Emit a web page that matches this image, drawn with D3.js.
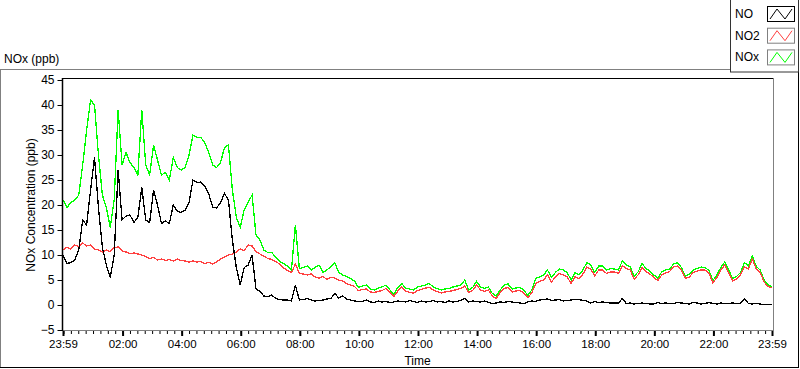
<!DOCTYPE html>
<html>
<head>
<meta charset="utf-8">
<script src="https://cdn.jsdelivr.net/npm/d3@7"></script>
<style>
  body { margin: 0; background: #fff; }
  svg { display: block; font-family: "Liberation Sans", Arial, sans-serif; }
</style>
</head>
<body>
<div id="main"></div>
<script>
// NOx time series, one reading every 8 minutes from 23:59 to 23:59 next day
var stepMinutes = 8;

var seriesNames = ["NO", "NO2", "NOx"];

var noValues = [
  10, 8.3, 8.5, 9, 11, 17, 16, 23, 29.5, 19.5,
  11.5, 8, 5.5, 10, 27, 17, 17.8, 18, 16.5, 17.5,
  23.5, 17, 16.5, 23, 20, 16.3, 16.8, 16.3, 20, 18.8,
  18.5, 19, 20.5, 25, 24.5, 24.6, 23.8, 22.2, 19.6, 19.4,
  20.5, 22.3, 21, 13, 7.5, 4, 7.5, 8, 10, 3.2,
  2.7, 1.8, 1.7, 2, 1.3, 1.1, 1, 1, 0.8, 4,
  1, 1.1, 1.3, 1, 0.8, 0.9, 1, 1.2, 1.3, 2.3,
  1.4, 1.8, 1.2, 1, 0.8, 0.7, 0.7, 1, 0.6, 0.5,
  0.8, 0.6, 0.7, 0.5, 0.6, 0.8, 0.7, 0.6, 0.9, 0.7,
  0.5, 0.8, 0.6, 0.7, 0.9, 0.6, 0.7, 0.5, 0.8, 0.6,
  0.7, 0.9, 1.3, 0.6, 0.8, 0.7, 0.6, 0.8, 0.5, 0.3,
  0.4, 0.6, 0.5, 0.7, 0.6, 0.5, 0.4, 0.3, 0.6, 0.8,
  0.7, 1, 1.1, 1.2, 0.9, 1, 1.1, 0.8, 0.9, 1,
  1.1, 1.1, 0.9, 0.8, 0.4, 0.7, 0.5, 0.6, 0.5, 0.4,
  0.4, 0.4, 1.3, 0.3, 0.4, 0.2, 0.3, 0.4, 0.3, 0.2,
  0.2, 0.5, 0.3, 0.4, 0.3, 0.3, 0.5, 0.4, 0.3, 0.2,
  0.5, 0.4, 0.2, 0.3, 0.5, 0.3, 0.2, 0.4, 0.3, 0.3,
  0.4, 0.3, 0.3, 1.3, 0.3, 0.2, 0.3, 0.2, 0.1, 0.1, 0.1
];

var no2Values = [
  11, 11.6, 11.2, 12, 11.7, 12.4, 11.8, 12, 11.2, 11,
  10.6, 11, 10.7, 11.5, 11.6, 10.8, 10.6, 10.3, 10.4, 10.2,
  10, 9.7, 9.3, 9.5, 9, 9.2, 8.9, 9.1, 8.8, 9.2,
  8.9, 8.8, 8.6, 8.8, 8.6, 8.7, 8.3, 8.5, 8.2, 8.6,
  9.2, 9.6, 10, 10.2, 10.6, 11.2, 10.9, 12, 11.8, 10.7,
  10.2, 9.8, 9.3, 9.1, 8.7, 8.2, 7.4, 6.9, 6.5, 8.2,
  6.3, 6.2, 6, 6.2, 5.6, 5.4, 5.7, 5.1, 5.5, 5.4,
  5, 4.8, 4.3, 4, 3.7, 2.9, 3.1, 3.2, 2.6, 2.5,
  2.7, 2.9, 3.3, 2.5, 1.7, 2.8, 3.6, 2.8, 2.5, 2.4,
  2.9, 3.1, 3.4, 3.5, 3, 2.7, 2.4, 2.6, 2.7, 2.9,
  3.1, 3.3, 3.8, 2.5, 2.9, 4, 3, 2.7, 3, 1.8,
  1.3, 2.5, 3.3, 3.5, 2.6, 2.8, 2.9, 2.4, 1.5, 2.4,
  4.3, 4.7, 5, 6, 4.6, 5.6, 6.3, 6, 5.6, 4.3,
  5.7, 5.2, 6.2, 7.6, 7.2, 5.8, 7, 7, 6.3, 6.6,
  6.6, 6.3, 7.9, 7.3, 7, 5.2, 6, 7.5, 6.7, 6.2,
  5.5, 4.9, 6, 6.4, 6.7, 7.6, 7.8, 7, 5.3, 5.6,
  6.5, 6.8, 7, 7, 6.4, 4.4, 5.5, 7, 8, 6.4,
  4.8, 5.2, 6, 7.6, 7.2, 9.2, 7.2, 6.5, 4.6, 3.7, 3.4
];

var noxValues = [
  21, 19.5, 20.5, 21, 22, 28, 35, 41, 40, 30,
  22, 19.5, 15.5, 21, 39, 28, 30.5, 28.5, 27.5, 26,
  39, 28, 26, 32, 29, 26, 26.5, 25, 29.5, 27.5,
  27, 27.5, 30, 34, 33.5, 33.5, 32.5, 30.5, 28, 27.5,
  28.5, 31.5, 32, 23, 17.5, 15.5, 19, 20.5, 22, 14,
  13, 11, 10.5, 10.5, 9.5, 8.7, 8.3, 7.8, 7, 16,
  7.3, 7.5, 7.8, 7, 7.5, 8, 6.5, 7, 7.7, 8.5,
  6.5, 6, 5.7, 5.3, 4.8, 3.5, 3.8, 4, 3.2, 3,
  3.4, 3.6, 4, 3, 2.2, 3.5, 4.3, 3.4, 3.2, 3,
  3.6, 3.8, 4, 4.3, 3.6, 3.3, 3, 3.2, 3.3, 3.6,
  3.8, 4, 5, 3, 3.5, 4.7, 3.6, 3.3, 3.6, 2.3,
  1.8, 3, 4, 4.2, 3.2, 3.4, 3.5, 3, 1.9, 3,
  5.3, 5.6, 6, 7, 5.5, 6.5, 7.2, 7, 6.5, 5,
  6.5, 6, 7, 8.5, 8, 6.5, 7.8, 7.8, 7, 7.3,
  7.2, 7, 8.8, 8, 7.6, 5.8, 6.6, 8.3, 7.3, 6.8,
  6, 5.4, 6.6, 7, 7.2, 8.2, 8.5, 7.5, 5.8, 6.1,
  7, 7.3, 7.6, 7.5, 6.9, 4.9, 6, 7.5, 8.6, 7,
  5.3, 5.7, 6.5, 8.5, 7.8, 9.8, 7.7, 7, 5, 4, 3.7
];

var yTicks = [-5, 0, 5, 10, 15, 20, 25, 30, 35, 40, 45];
var xTickHours = [2, 4, 6, 8, 10, 12, 14, 16, 18, 20, 22];

var colors = {"NO": "#000000", "NO2": "#ff4040", "NOx": "#00ff00"};

var width = 800, height = 369;
var plot = {left: 62, right: 773, top: 78, bottom: 330};

var svg = d3.select("#main").append("svg")
  .attr("width", width)
  .attr("height", height);

var start = new Date(2020, 0, 1, 23, 59);
var end = d3.timeDay.offset(start, 1);

var x = d3.scaleTime()
  .domain([start, end])
  .range([63, 772]);

var y = d3.scaleLinear()
  .domain([-5, 45])
  .range([330, 80]);

// outer panel frame
svg.append("line").attr("x1", 0).attr("x2", 730).attr("y1", 69.5).attr("y2", 69.5).attr("stroke", "#808080");
svg.append("line").attr("x1", 0.5).attr("x2", 0.5).attr("y1", 69.5).attr("y2", 368).attr("stroke", "#808080");
svg.append("line").attr("x1", 0).attr("x2", 799).attr("y1", 367.5).attr("y2", 367.5).attr("stroke", "#000");
svg.append("line").attr("x1", 798.5).attr("x2", 798.5).attr("y1", 72).attr("y2", 368).attr("stroke", "#000");

svg.append("text")
  .attr("x", 4).attr("y", 63)
  .attr("font-size", 12)
  .text("NOx (ppb)");

// plot area
svg.append("rect")
  .attr("x", plot.left).attr("y", plot.top)
  .attr("width", plot.right - plot.left).attr("height", plot.bottom - plot.top)
  .attr("fill", "#fff");
svg.append("line").attr("x1", plot.left).attr("x2", plot.right).attr("y1", plot.top + 0.5).attr("y2", plot.top + 0.5).attr("stroke", "#000");
svg.append("line").attr("x1", plot.right + 0.5).attr("x2", plot.right + 0.5).attr("y1", plot.top).attr("y2", plot.bottom).attr("stroke", "#808080");
svg.append("line").attr("x1", plot.left).attr("x2", plot.right + 1).attr("y1", plot.bottom + 0.5).attr("y2", plot.bottom + 0.5).attr("stroke", "#808080");

// series
var times = noValues.map((d, i) => d3.timeMinute.offset(start, i * stepMinutes));
var series = [
  {name: "NOx", values: noxValues},
  {name: "NO2", values: no2Values},
  {name: "NO", values: noValues}
];

var line = d3.line()
  .x((d, i) => x(times[i]))
  .y(d => y(d));

svg.append("g")
  .selectAll("path")
  .data(series)
  .join("path")
    .attr("fill", "none")
    .attr("stroke", d => colors[d.name])
    .attr("stroke-width", 1.3)
    .attr("shape-rendering", "crispEdges")
    .attr("d", d => line(d.values));

// y axis
var yAxis = svg.append("g")
  .attr("transform", "translate(" + (plot.left + 0.5) + ",0)")
  .call(d3.axisLeft(y).tickValues(yTicks).tickSize(5).tickPadding(3).tickSizeOuter(0));
yAxis.select(".domain").attr("stroke", "#000").attr("stroke-width", 1.5).attr("d", "M0," + plot.top + "V" + (plot.bottom + 1));
yAxis.selectAll("text").attr("font-size", 12).attr("fill", "#000").attr("font-family", "Liberation Sans, Arial, sans-serif");

svg.append("text")
  .attr("transform", "translate(35,205) rotate(-90)")
  .attr("text-anchor", "middle")
  .attr("font-size", 12)
  .text("NOx Concentration (ppb)");

// x axis: minor ticks every 15 minutes, labels every 2 hours
var minorTicks = d3.timeMinute.every(15).range(start, end);
svg.append("g")
  .attr("transform", "translate(0," + (plot.bottom + 1) + ")")
  .call(d3.axisBottom(x).tickValues(minorTicks).tickSize(3).tickFormat(""))
  .call(g => g.select(".domain").remove())
  .selectAll("line").attr("stroke", "#000");

var majorTicks = [start].concat(xTickHours.map(h => new Date(2020, 0, 2, h, 0)), [end]);
var xAxis = svg.append("g")
  .attr("transform", "translate(0," + (plot.bottom + 1) + ")")
  .call(d3.axisBottom(x).tickValues(majorTicks).tickSize(5).tickPadding(4).tickFormat(d3.timeFormat("%H:%M")));
xAxis.select(".domain").remove();
xAxis.selectAll("line").attr("stroke", "#000").attr("stroke-width", 2);
xAxis.selectAll("text").attr("font-size", 11.5).attr("fill", "#000").attr("font-family", "Liberation Sans, Arial, sans-serif");

svg.append("text")
  .attr("x", (plot.left + plot.right) / 2).attr("y", 365)
  .attr("text-anchor", "middle")
  .attr("font-size", 12)
  .text("Time");

// legend
var legend = svg.append("g");
legend.append("rect")
  .attr("x", 730.5).attr("y", -1)
  .attr("width", 68).attr("height", 73)
  .attr("fill", "#fff").attr("stroke", "#333");

var items = legend.selectAll("g.item")
  .data(seriesNames)
  .join("g")
    .attr("class", "item")
    .attr("transform", (d, i) => "translate(0," + (i * 21.7) + ")");

items.append("text")
  .attr("x", 735).attr("y", 18)
  .attr("font-size", 12)
  .text(d => d);

items.append("rect")
  .attr("x", 767.5).attr("y", 6.5)
  .attr("width", 27).attr("height", 15)
  .attr("fill", "#fff")
  .attr("stroke", (d, i) => i === 0 ? "#000" : "#808080");

items.append("path")
  .attr("fill", "none")
  .attr("stroke", d => colors[d])
  .attr("d", "M770,19L777,9L785,19L792,9");
</script>
</body>
</html>
